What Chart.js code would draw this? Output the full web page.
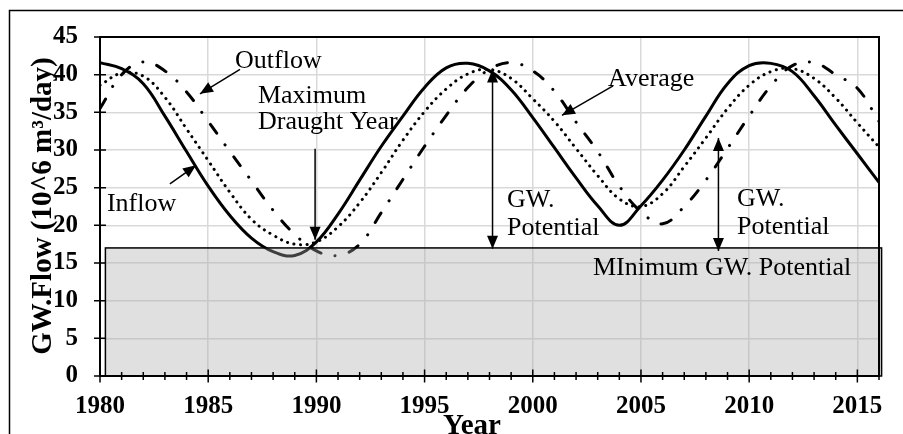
<!DOCTYPE html>
<html>
<head>
<meta charset="utf-8">
<script src="https://cdn.jsdelivr.net/npm/chart.js@4.4.0/dist/chart.umd.min.js"></script>
<style>
  html, body { margin: 0; padding: 0; background: #fff; }
  #wrap { width: 903px; height: 434px; }
</style>
</head>
<body>
<div id="wrap"><canvas id="gwChart" width="903" height="434"></canvas></div>
<script>
const years = [1980, 1981, 1982, 1983, 1984, 1985, 1986, 1987, 1988, 1989, 1990, 1991, 1992,
  1993, 1994, 1995, 1996, 1997, 1998, 1999, 2000, 2001, 2002, 2003, 2004, 2005, 2006, 2007,
  2008, 2009, 2010, 2011, 2012, 2013, 2014, 2015, 2016];
const inflow = [41.6, 40.8, 38.8, 34.5, 29.8, 25.2, 21.3, 18.3, 16.5, 16.0, 17.8, 21.5, 26.0,
  30.5, 34.5, 38.3, 40.9, 41.5, 40.5, 38.0, 34.3, 30.3, 26.3, 22.6, 20.0, 22.6, 26.0, 30.0,
  34.5, 38.8, 41.2, 41.5, 40.4, 37.2, 33.3, 29.5, 25.7];
const average = [38.6, 40.2, 39.8, 37.0, 32.8, 28.6, 24.4, 20.8, 18.7, 17.5, 17.8, 19.8, 23.0,
  27.0, 31.3, 35.1, 38.1, 40.1, 40.7, 39.5, 36.8, 33.8, 30.2, 26.6, 23.5, 22.5, 24.2, 27.8,
  31.6, 35.5, 38.6, 40.4, 40.8, 39.5, 36.9, 33.6, 30.4];
const outflow = [35.5, 40.0, 41.7, 40.5, 37.7, 33.8, 29.8, 25.9, 22.0, 18.8, 16.6, 16.0, 17.5,
  21.7, 26.1, 30.5, 34.6, 38.3, 40.7, 41.6, 40.5, 37.8, 33.7, 29.8, 25.2, 21.8, 20.2, 22.5,
  26.0, 30.2, 34.5, 38.5, 41.2, 41.6, 40.0, 38.2, 33.8];

const yTicks = [0, 5, 10, 15, 20, 25, 30, 35, 40, 45];
const xTicks = [1980, 1985, 1990, 1995, 2000, 2005, 2010, 2015];

// minimum groundwater potential band
const minPotential = 17;
const minBand = [1980.25, 2016.12];

// annotations, in chart units
const arrows = [
  [1986.47, 40.7, 1984.62, 37.46],   // Outflow
  [1983.23, 25.5, 1984.44, 27.96],   // Inflow
  [1989.94, 30.17, 1989.94, 18.08],  // Maximum draught year
  [2003.71, 38.5, 2001.35, 34.6]     // Average
];
const doubleArrows = [
  [1998.14, 40.7, 16.9],
  [2008.58, 31.6, 16.6]
];
const notes = [
  ["Outflow", 1986.24, 40.84],
  ["Inflow", 1980.32, 21.85],
  ["Maximum", 1987.3, 36.29],
  ["Draught Year", 1987.3, 32.77],
  ["GW.", 1998.81, 22.5],
  ["Potential", 1998.81, 18.73],
  ["Average", 2003.48, 38.5],
  ["GW.", 2009.44, 22.63],
  ["Potential", 2009.44, 18.86],
  ["MInimum GW. Potential", 2002.78, 13.4]
];

const serif = "'Liberation Serif', 'Times New Roman', serif";

function arrowHead(ctx, x0, y0, x1, y1) {
  const ang = Math.atan2(y1 - y0, x1 - x0);
  const len = 13, half = 5.5;
  ctx.beginPath();
  ctx.moveTo(x1, y1);
  ctx.lineTo(x1 - len * Math.cos(ang) + half * Math.sin(ang), y1 - len * Math.sin(ang) - half * Math.cos(ang));
  ctx.lineTo(x1 - len * Math.cos(ang) - half * Math.sin(ang), y1 - len * Math.sin(ang) + half * Math.cos(ang));
  ctx.closePath();
  ctx.fill();
}

const overlay = {
  id: "overlay",
  beforeDraw(chart) {
    const ctx = chart.ctx;
    ctx.save();
    ctx.strokeStyle = "#000";
    ctx.lineWidth = 1.5;
    ctx.strokeRect(9.5, 10.5, 1000, 1000);
    ctx.restore();
  },
  afterDatasetsDraw(chart) {
    const ctx = chart.ctx, xs = chart.scales.x, ys = chart.scales.y, a = chart.chartArea;
    ctx.save();

    // band
    const bx0 = xs.getPixelForValue(minBand[0]), bx1 = xs.getPixelForValue(minBand[1]);
    const by = ys.getPixelForValue(minPotential), b0 = ys.getPixelForValue(0);
    ctx.fillStyle = "rgba(172,172,172,0.37)";
    ctx.fillRect(bx0, by, bx1 - bx0, b0 - by);
    ctx.strokeStyle = "#000";
    ctx.lineWidth = 1.5;
    ctx.strokeRect(bx0, by, bx1 - bx0, b0 - by);

    // frame
    ctx.lineWidth = 2;
    ctx.strokeRect(a.left, a.top, a.right - a.left, a.bottom - a.top);

    // tick marks crossing the axes
    ctx.lineWidth = 1.5;
    ctx.beginPath();
    for (let yr = 1980; yr <= 2016; yr++) {
      const px = xs.getPixelForValue(yr), len = yr % 5 === 0 ? 6.5 : 4;
      ctx.moveTo(px, a.bottom - len);
      ctx.lineTo(px, a.bottom + len);
    }
    yTicks.forEach(v => {
      const py = ys.getPixelForValue(v);
      ctx.moveTo(a.left - 6, py);
      ctx.lineTo(a.left + 6, py);
    });
    ctx.stroke();

    // arrows
    ctx.fillStyle = "#000";
    ctx.lineWidth = 1.5;
    arrows.forEach(([x0, y0, x1, y1]) => {
      const p0 = [xs.getPixelForValue(x0), ys.getPixelForValue(y0)];
      const p1 = [xs.getPixelForValue(x1), ys.getPixelForValue(y1)];
      ctx.beginPath();
      ctx.moveTo(p0[0], p0[1]);
      ctx.lineTo(p1[0], p1[1]);
      ctx.stroke();
      arrowHead(ctx, p0[0], p0[1], p1[0], p1[1]);
    });
    doubleArrows.forEach(([x, top, bot]) => {
      const px = xs.getPixelForValue(x), pt = ys.getPixelForValue(top), pb = ys.getPixelForValue(bot);
      ctx.beginPath();
      ctx.moveTo(px, pt);
      ctx.lineTo(px, pb);
      ctx.stroke();
      arrowHead(ctx, px, pb, px, pt);
      arrowHead(ctx, px, pt, px, pb);
    });

    // notes
    ctx.font = "26px " + serif;
    ctx.textAlign = "left";
    ctx.textBaseline = "alphabetic";
    notes.forEach(([t, x, y]) => {
      ctx.fillText(t, xs.getPixelForValue(x), ys.getPixelForValue(y));
    });

    // axis titles
    ctx.font = "bold 29px " + serif;
    ctx.textAlign = "center";
    ctx.fillText("Year", 472, 434);
    ctx.translate(51, 206);
    ctx.rotate(-Math.PI / 2);
    ctx.fillText("GW.Flow (10^6 m\u00B3/day)", 0, 0);
    ctx.restore();
  }
};

function series(label, values, dash, cap) {
  return {
    label: label,
    data: years.map((yr, i) => ({ x: yr, y: values[i] })),
    borderColor: "#000",
    borderWidth: 3,
    borderDash: dash,
    borderCapStyle: cap,
    pointRadius: 0,
    tension: 0.4,
    fill: false
  };
}

new Chart(document.getElementById("gwChart"), {
  type: "line",
  data: {
    datasets: [
      series("Inflow", inflow, [], "butt"),
      series("Average", average, [0.1, 6.5], "round"),
      series("Outflow", outflow, [11, 14.5, 0.1, 14.5], "round")
    ]
  },
  options: {
    responsive: false,
    animation: false,
    layout: { padding: { left: 0, top: 30, right: 24, bottom: 0 } },
    plugins: { legend: { display: false }, tooltip: { enabled: false } },
    scales: {
      x: {
        type: "linear",
        min: 1980,
        max: 2016,
        afterBuildTicks: s => { s.ticks = xTicks.map(v => ({ value: v })); },
        afterFit: s => { s.height = 58; },
        ticks: {
          color: "#000", padding: 16, maxRotation: 0,
          font: { family: serif, size: 25, weight: "bold" },
          callback: v => String(v)
        },
        grid: { color: "#d9d9d9", lineWidth: 1.5, drawTicks: false },
        border: { display: false }
      },
      y: {
        min: 0,
        max: 45,
        afterBuildTicks: s => { s.ticks = yTicks.map(v => ({ value: v })); },
        afterFit: s => { s.width = 100; },
        ticks: { color: "#000", padding: 22, font: { family: serif, size: 25, weight: "bold" } },
        grid: { color: "#d9d9d9", lineWidth: 1.5, drawTicks: false },
        border: { display: false }
      }
    }
  },
  plugins: [overlay]
});
</script>
</body>
</html>
